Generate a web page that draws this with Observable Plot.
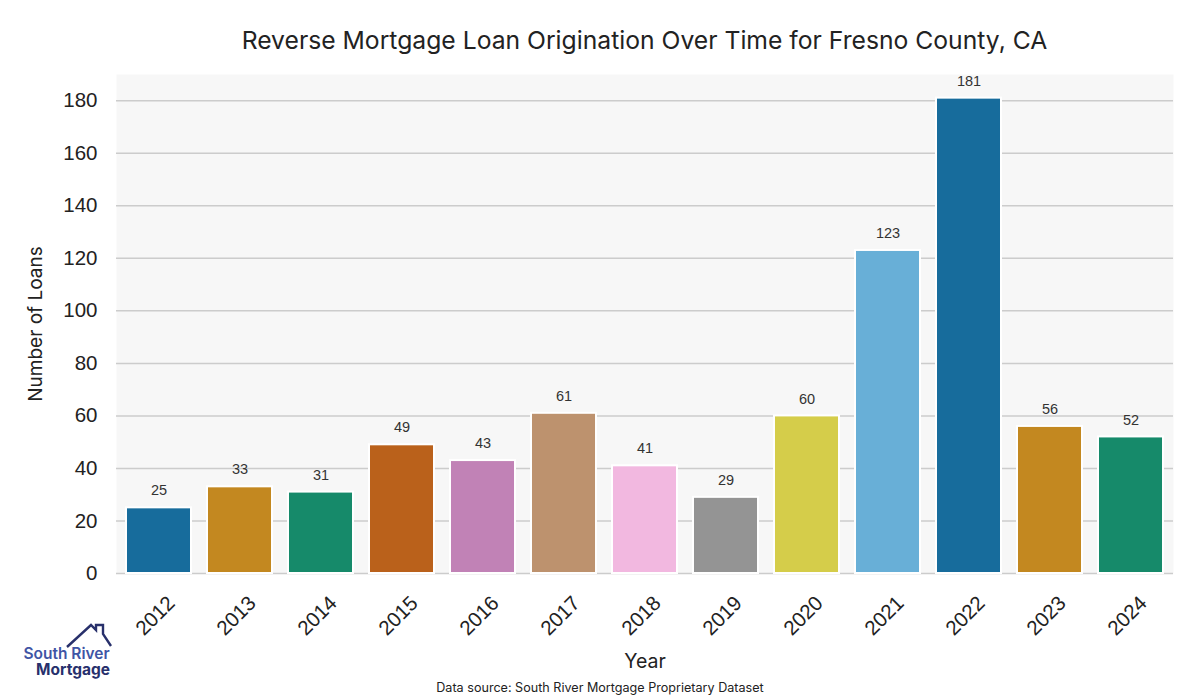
<!DOCTYPE html>
<html><head><meta charset="utf-8">
<script src="https://cdn.jsdelivr.net/npm/d3@7"></script>
<script src="https://cdn.jsdelivr.net/npm/@observablehq/plot@0.6"></script>
<style>
body{margin:0;background:#fff;width:1200px;height:700px;position:relative;overflow:hidden;font-family:Inter,"Noto Sans",sans-serif}
#title{position:absolute;left:116px;width:1057px;top:26px;text-align:center;font-size:24.7px;line-height:28px;color:#222;white-space:nowrap}
#chart{position:absolute;left:0;top:64px}
#caption{position:absolute;left:0;width:1200px;top:679px;text-align:center;font-size:12.6px;line-height:18px;color:#222}
#logo{position:absolute;left:0;top:610px}
</style></head>
<body>
<div id="title">Reverse Mortgage Loan Origination Over Time for Fresno County, CA</div>
<div id="chart"></div>
<div id="caption">Data source: South River Mortgage Proprietary Dataset</div>
<div id="logo"><svg width="130" height="80" viewBox="0 0 130 80">
<path d="M67,37 L91,15 L96,20 L96,15 L103,15 L103,24 L111,36" fill="none" stroke="#28306b" stroke-width="2.4" stroke-linejoin="miter"/>
<text font-family="Inter,sans-serif"><tspan x="66.5" y="48.5" text-anchor="middle" font-size="15.5" font-weight="600" fill="#3f55a5">South River</tspan><tspan x="110" y="64.5" text-anchor="end" font-size="15.5" font-weight="700" fill="#27306c">Mortgage</tspan></text>
</svg></div>
<script>
const years = ["2012","2013","2014","2015","2016","2017","2018","2019","2020","2021","2022","2023","2024"];
const loans = [25,33,31,49,43,61,41,29,60,123,181,56,52];
const barColors = ["#176C9C","#C38820","#168A6A","#BA611B","#C182B6","#BD926E","#F2B8E0","#949494","#D5CD4A","#68AFD7","#176C9C","#C38820","#168A6A"];
const yTicks = [0,20,40,60,80,100,120,140,160,180];

const data = years.map((y,i)=>({year:y, loans:loans[i], color:barColors[i]}));

const chart = Plot.plot({
  width:1200, height:612,
  marginLeft:116, marginRight:27, marginTop:10, marginBottom:103,
  style:{fontFamily:'"Liberation Sans", Arial, sans-serif', fontSize:"20px", color:"#222", background:"transparent"},
  x:{domain:years, paddingInner:0.2, paddingOuter:0.1, axis:null, label:null},
  y:{domain:[0,190], label:null, axis:null},
  color:{type:"identity"},
  marks:[
    Plot.frame({fill:"#f7f7f7", stroke:null}),
    Plot.gridY(yTicks, {stroke:"#cccccc", strokeOpacity:1, strokeWidth:1.5}),
    Plot.barY(data, {x:"year", y:"loans", fill:"color", stroke:"white", strokeWidth:2}),
    Plot.text(data, {x:"year", y:"loans", text:d=>String(d.loans), dy:-17, fontSize:14.5, fill:"#333"}),
    Plot.axisY(yTicks, {tickSize:0, tickPadding:19, fontSize:20.5, fill:"#222", label:null}),
    Plot.text(years, {x:d=>d, frameAnchor:"bottom", dx:1, dy:47, rotate:-45, fontSize:20.5, fill:"#222"}),
    Plot.text(["Year"], {frameAnchor:"bottom", dy:94, fontFamily:"Inter, sans-serif", fontSize:19.5, fill:"#222"}),
    Plot.text(["Number of Loans"], {frameAnchor:"left", textAnchor:"middle", dx:-81, rotate:-90, fontFamily:"Inter, sans-serif", fontSize:19, fill:"#222"})
  ]
});
document.getElementById("chart").appendChild(chart);
</script>
</body></html>
